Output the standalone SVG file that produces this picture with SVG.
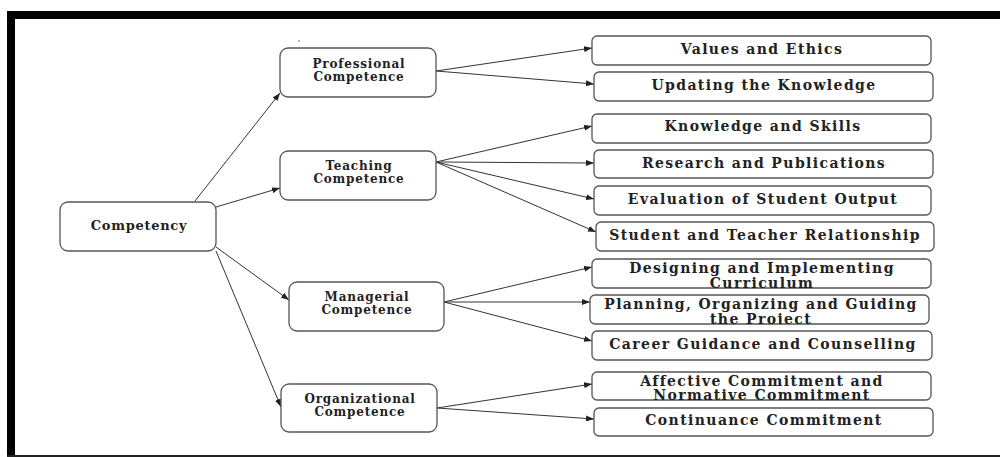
<svg xmlns="http://www.w3.org/2000/svg" width="1000" height="457" viewBox="0 0 1000 457">
  <style>
    .box { fill: #ffffff; stroke: #555555; stroke-width: 1.3; }
    .lbl { font-family: "DejaVu Serif", "Liberation Serif", serif; font-weight: bold; fill: #222222; text-anchor: middle; }
    .mid { font-size: 12px; letter-spacing: 0.8px; }
    .leaf { font-size: 14px; letter-spacing: 1.4px; }
    .root { font-size: 13px; letter-spacing: 0.7px; }
    .edge { stroke: #333333; stroke-width: 1; fill: none; marker-end: url(#arrow); }
  </style>
  <defs>
    <marker id="arrow" viewBox="0 0 8 6" refX="8" refY="3" markerWidth="8" markerHeight="6" markerUnits="userSpaceOnUse" orient="auto">
      <path d="M0,0 L8,3 L0,6 Z" fill="#222222"/>
    </marker>
    <clipPath id="clipDesign"><rect x="592" y="259" width="339" height="29"/></clipPath>
    <clipPath id="clipPlan"><rect x="590" y="295" width="339" height="29"/></clipPath>
    <clipPath id="clipAffect"><rect x="592" y="372" width="339" height="28"/></clipPath>
  </defs>

  <!-- page background and frame -->
  <rect x="0" y="0" width="1000" height="457" fill="#ffffff"/>
  <rect x="7" y="11" width="993" height="8" fill="#000000"/>
  <rect x="7" y="11" width="8" height="446" fill="#000000"/>
  <rect x="7" y="455" width="993" height="2" fill="#222222"/>
  <circle cx="299" cy="41" r="0.8" fill="#555555"/>

  <!-- connectors -->
  <g id="connectors">
    <line class="edge" x1="195" y1="201" x2="280" y2="93"/>
    <line class="edge" x1="216" y1="207" x2="280" y2="188"/>
    <line class="edge" x1="216" y1="247" x2="289" y2="300"/>
    <line class="edge" x1="216" y1="251" x2="281" y2="407"/>

    <line class="edge" x1="436" y1="71" x2="592" y2="48"/>
    <line class="edge" x1="436" y1="71" x2="594" y2="84"/>

    <line class="edge" x1="436" y1="162" x2="592" y2="126"/>
    <line class="edge" x1="436" y1="162" x2="594" y2="163"/>
    <line class="edge" x1="436" y1="162" x2="594" y2="199"/>
    <line class="edge" x1="436" y1="162" x2="596" y2="232"/>

    <line class="edge" x1="444" y1="302" x2="592" y2="267"/>
    <line class="edge" x1="444" y1="302" x2="590" y2="302"/>
    <line class="edge" x1="444" y1="302" x2="592" y2="341"/>

    <line class="edge" x1="437" y1="408" x2="592" y2="384"/>
    <line class="edge" x1="437" y1="408" x2="594" y2="419"/>
  </g>

  <!-- root -->
  <g id="competency">
    <rect class="box" x="60" y="202" width="156" height="49" rx="8"/>
    <text class="lbl root" x="139" y="230">Competency</text>
  </g>

  <!-- second level -->
  <g id="professional">
    <rect class="box" x="280" y="48" width="156" height="49" rx="8"/>
    <text class="lbl mid" x="359" y="67.5">Professional</text>
    <text class="lbl mid" x="359" y="80.5">Competence</text>
  </g>
  <g id="teaching">
    <rect class="box" x="280" y="151" width="156" height="49" rx="8"/>
    <text class="lbl mid" x="359" y="169.5">Teaching</text>
    <text class="lbl mid" x="359" y="182.5">Competence</text>
  </g>
  <g id="managerial">
    <rect class="box" x="289" y="282" width="155" height="49" rx="8"/>
    <text class="lbl mid" x="367" y="300.5">Managerial</text>
    <text class="lbl mid" x="367" y="313.5">Competence</text>
  </g>
  <g id="organizational">
    <rect class="box" x="281" y="384" width="156" height="48" rx="8"/>
    <text class="lbl mid" x="360" y="402.5">Organizational</text>
    <text class="lbl mid" x="360" y="415.5">Competence</text>
  </g>

  <!-- leaves -->
  <g id="values-ethics">
    <rect class="box" x="592" y="36" width="339" height="29" rx="5"/>
    <text class="lbl leaf" x="762" y="54">Values and Ethics</text>
  </g>
  <g id="updating-knowledge">
    <rect class="box" x="594" y="72" width="339" height="29" rx="5"/>
    <text class="lbl leaf" x="764" y="90">Updating the Knowledge</text>
  </g>
  <g id="knowledge-skills">
    <rect class="box" x="592" y="114" width="339" height="29" rx="5"/>
    <text class="lbl leaf" x="763" y="131">Knowledge and Skills</text>
  </g>
  <g id="research-publications">
    <rect class="box" x="594" y="150" width="339" height="28" rx="5"/>
    <text class="lbl leaf" x="764" y="168">Research and Publications</text>
  </g>
  <g id="evaluation-output">
    <rect class="box" x="594" y="186" width="337" height="29" rx="5"/>
    <text class="lbl leaf" x="763" y="204">Evaluation of Student Output</text>
  </g>
  <g id="student-teacher">
    <rect class="box" x="596" y="222" width="338" height="29" rx="5"/>
    <text class="lbl leaf" x="765" y="240">Student and Teacher Relationship</text>
  </g>
  <g id="designing-curriculum">
    <rect class="box" x="592" y="259" width="339" height="29" rx="5"/>
    <g clip-path="url(#clipDesign)">
      <text class="lbl leaf" x="762" y="273">Designing and Implementing</text>
      <text class="lbl leaf" x="762" y="288">Curriculum</text>
    </g>
  </g>
  <g id="planning-project">
    <rect class="box" x="590" y="295" width="339" height="29" rx="5"/>
    <g clip-path="url(#clipPlan)">
      <text class="lbl leaf" x="761" y="309">Planning, Organizing and Guiding</text>
      <text class="lbl leaf" x="761" y="324">the Project</text>
    </g>
  </g>
  <g id="career-guidance">
    <rect class="box" x="592" y="331" width="340" height="29" rx="5"/>
    <text class="lbl leaf" x="763" y="349">Career Guidance and Counselling</text>
  </g>
  <g id="affective-normative">
    <rect class="box" x="592" y="372" width="339" height="28" rx="5"/>
    <g clip-path="url(#clipAffect)">
      <text class="lbl leaf" x="762" y="386">Affective Commitment and</text>
      <text class="lbl leaf" x="762" y="400">Normative Commitment</text>
    </g>
  </g>
  <g id="continuance">
    <rect class="box" x="594" y="408" width="339" height="28" rx="5"/>
    <text class="lbl leaf" x="764" y="425">Continuance Commitment</text>
  </g>
</svg>
